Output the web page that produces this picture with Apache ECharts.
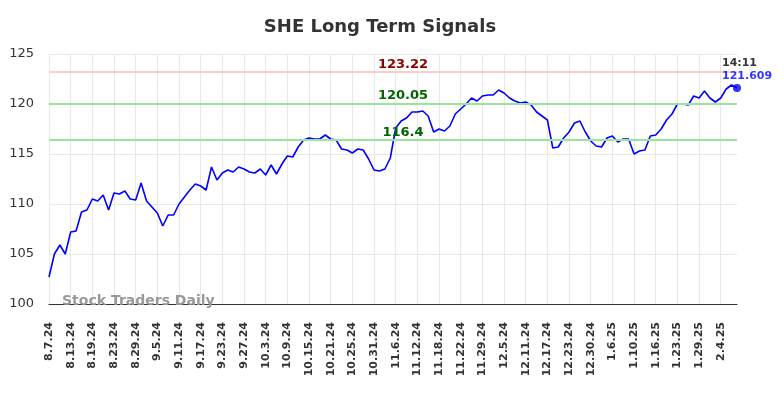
<!DOCTYPE html>
<html>
<head>
<meta charset="utf-8">
<script src="https://cdn.jsdelivr.net/npm/echarts@6/dist/echarts.min.js"></script>
<style>html,body{margin:0;padding:0;background:#fff;}#c{width:784px;height:398px;}</style>
</head>
<body>
<div id="c"></div>
<script>
const dates = ["8.7.24","8.8.24","8.9.24","8.12.24","8.13.24","8.14.24","8.15.24","8.16.24","8.19.24","8.20.24","8.21.24","8.22.24","8.23.24","8.26.24","8.27.24","8.28.24","8.29.24","8.30.24","9.3.24","9.4.24","9.5.24","9.6.24","9.9.24","9.10.24","9.11.24","9.12.24","9.13.24","9.16.24","9.17.24","9.18.24","9.19.24","9.20.24","9.23.24","9.24.24","9.25.24","9.26.24","9.27.24","9.30.24","10.1.24","10.2.24","10.3.24","10.4.24","10.7.24","10.8.24","10.9.24","10.10.24","10.11.24","10.14.24","10.15.24","10.16.24","10.17.24","10.18.24","10.21.24","10.22.24","10.23.24","10.24.24","10.25.24","10.28.24","10.29.24","10.30.24","10.31.24","11.1.24","11.4.24","11.5.24","11.6.24","11.7.24","11.8.24","11.11.24","11.12.24","11.13.24","11.14.24","11.15.24","11.18.24","11.19.24","11.20.24","11.21.24","11.22.24","11.25.24","11.26.24","11.27.24","11.29.24","12.2.24","12.3.24","12.4.24","12.5.24","12.6.24","12.9.24","12.10.24","12.11.24","12.12.24","12.13.24","12.16.24","12.17.24","12.18.24","12.19.24","12.20.24","12.23.24","12.24.24","12.26.24","12.27.24","12.30.24","12.31.24","1.2.25","1.3.25","1.6.25","1.7.25","1.8.25","1.9.25","1.10.25","1.13.25","1.14.25","1.15.25","1.16.25","1.17.25","1.21.25","1.22.25","1.23.25","1.24.25","1.27.25","1.28.25","1.29.25","1.30.25","1.31.25","2.3.25","2.4.25","2.5.25","2.6.25","2.7.25"];
const prices = [102.7,105.0,105.9,105.0,107.2,107.3,109.2,109.4,110.5,110.3,110.9,109.4,111.1,111.0,111.3,110.5,110.4,112.1,110.3,109.7,109.1,107.8,108.9,108.9,110.0,110.7,111.4,112.0,111.8,111.4,113.7,112.4,113.1,113.4,113.2,113.7,113.5,113.2,113.1,113.5,112.9,113.9,113.0,114.0,114.8,114.7,115.7,116.4,116.6,116.5,116.5,116.9,116.5,116.4,115.5,115.4,115.1,115.5,115.4,114.5,113.4,113.3,113.5,114.6,117.6,118.3,118.6,119.2,119.2,119.3,118.8,117.2,117.5,117.3,117.8,119.0,119.5,120.0,120.6,120.3,120.8,120.9,120.9,121.4,121.1,120.6,120.3,120.1,120.2,119.9,119.2,118.8,118.4,115.6,115.7,116.6,117.2,118.1,118.3,117.2,116.3,115.8,115.7,116.6,116.8,116.2,116.5,116.5,115.0,115.3,115.4,116.8,116.9,117.5,118.4,119.0,120.0,120.0,119.9,120.8,120.6,121.3,120.6,120.2,120.6,121.5,121.9,121.609];
const levels = [123.22, 120.05, 116.4];
const levelColors = ["#ffcccc", "#99e699", "#99e699"];
const levelLabelColors = ["#8b0000", "#006400", "#006400"];
const lastTime = "14:11";
const yTicks = {min: 100, max: 125, interval: 5};

const chart = echarts.init(document.getElementById('c'));
const lastIdx = prices.length - 1;
chart.setOption({
  animation: false,
  title: {
    text: 'SHE Long Term Signals',
    left: 375, top: 13, textAlign: 'center',
    textStyle: {fontSize: 18, fontWeight: 'bold', color: '#333', fontFamily: 'DejaVu Sans'}
  },
  grid: {left: 49, right: 47, top: 54, bottom: 94},
  xAxis: {
    type: 'category', data: dates, boundaryGap: false,
    axisLine: {lineStyle: {color: '#333', width: 1}},
    axisTick: {show: false},
    axisLabel: {interval: 3, rotate: 90, margin: 18, fontSize: 11, fontWeight: 'bold', color: '#333', fontFamily: 'DejaVu Sans'},
    splitLine: {show: true, interval: 3, lineStyle: {color: '#e8e8e8', width: 1}}
  },
  yAxis: {
    type: 'value', min: yTicks.min, max: yTicks.max, interval: yTicks.interval,
    axisLine: {show: false}, axisTick: {show: false},
    axisLabel: {margin: 15, fontSize: 13, color: '#333', fontFamily: 'DejaVu Sans'},
    splitLine: {lineStyle: {color: '#e8e8e8', width: 1}}
  },
  graphic: [{
    type: 'text', left: 62, top: 294, z: 10,
    style: {text: 'Stock Traders Daily', fontSize: 14, fontWeight: 'bold', fill: '#999', fontFamily: 'DejaVu Sans'}
  }],
  series: [{
    type: 'line', data: prices, showSymbol: false, smooth: false,
    lineStyle: {color: '#0000ff', width: 1.6},
    markLine: {
      silent: true, symbol: 'none',
      data: levels.map((v, i) => ({
        yAxis: v,
        lineStyle: {color: levelColors[i], width: 2, type: 'solid'},
        label: {show: true, position: 'middle', formatter: String(v), distance: 1,
          color: levelLabelColors[i], fontSize: 13, fontWeight: 'bold', fontFamily: 'DejaVu Sans', offset: [10, 0]}
      }))
    }
  }, {
    type: 'scatter', symbolSize: 8, z: 5,
    itemStyle: {color: '#0000ff'},
    data: [[lastIdx, prices[lastIdx]]],
    label: {
      show: true, position: [-11, -27], align: 'left', verticalAlign: 'top',
      formatter: () => '{t|' + lastTime + '}\n{v|' + prices[lastIdx] + '}',
      rich: {
        t: {color: '#000', fontSize: 11, fontWeight: 'bold', fontFamily: 'DejaVu Sans', lineHeight: 13},
        v: {color: '#0000ff', fontSize: 11, fontWeight: 'bold', fontFamily: 'DejaVu Sans', lineHeight: 13}
      }
    }
  }]
});
</script>
</body>
</html>
